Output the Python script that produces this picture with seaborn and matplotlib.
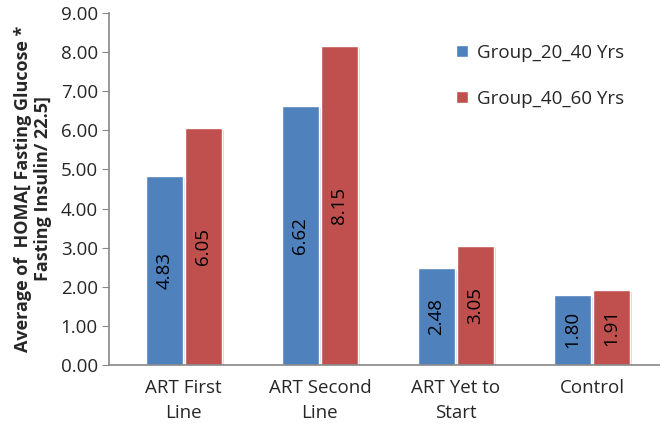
import pandas as pd
import numpy as np
import matplotlib.pyplot as plt
import matplotlib.patheffects as pe
from matplotlib.patches import Patch
import seaborn as sns

sns.set_style("white")
plt.rcParams['font.family'] = ['Open Sans', 'DejaVu Sans']

categories = ['ART First\nLine', 'ART Second\nLine', 'ART Yet to\nStart', 'Control']
groups = ['Group_20_40 Yrs', 'Group_40_60 Yrs']
values_20_40 = [4.83, 6.62, 2.48, 1.80]
values_40_60 = [6.05, 8.15, 3.05, 1.91]
colors = ['#4F81BD', '#C0504D']

df = pd.DataFrame({
    'category': categories * 2,
    'group': [groups[0]] * 4 + [groups[1]] * 4,
    'value': values_20_40 + values_40_60,
})

fig, ax = plt.subplots(figsize=(6.6, 4.28), dpi=100)
sns.barplot(data=df, x='category', y='value', hue='group',
            palette=colors, saturation=1, width=0.57, gap=0.04,
            edgecolor='white', linewidth=1.0, ax=ax, legend=False)

# soft shadow like the excel bars
for p in ax.patches:
    p.set_path_effects([pe.SimplePatchShadow(offset=(1.5, -1.5), alpha=0.18), pe.Normal()])

for cont in ax.containers:
    ax.bar_label(cont, labels=[f'{v:.2f}' for v in cont.datavalues],
                 label_type='center', rotation=90, fontsize=13.5, color='black')

ax.set_xlim(-0.55, 3.5)
ax.set_ylim(0, 9)
ax.set_yticks(np.arange(0, 9.01, 1))
ax.set_yticklabels([f'{v:.2f}' for v in np.arange(0, 9.01, 1)], fontsize=13.5)
ax.tick_params(axis='x', labelsize=13.5, length=0, pad=10)
for t in ax.get_xticklabels():
    t.set_linespacing(1.5)
ax.tick_params(axis='y', length=5, color='#888888', left=True, pad=3)
ax.set_xlabel('')
ax.set_ylabel('Average of  HOMA[ Fasting Glucose *\nFasting Insulin/ 22.5]',
              fontsize=13, fontweight='bold', labelpad=6)

sns.despine(ax=ax, top=True, right=True)
for s in ['left', 'bottom']:
    ax.spines[s].set_color('#888888')
    ax.spines[s].set_linewidth(1.2)

handles = [Patch(facecolor=c) for c in colors]
ax.legend(handles, groups, loc='upper left', bbox_to_anchor=(0.6, 0.96), frameon=False,
          fontsize=13.5, handlelength=0.6, handleheight=0.6,
          labelspacing=1.5, handletextpad=0.5)

fig.subplots_adjust(left=0.165, right=1.0, top=0.97, bottom=0.147)
fig.savefig('out.png', dpi=100)
